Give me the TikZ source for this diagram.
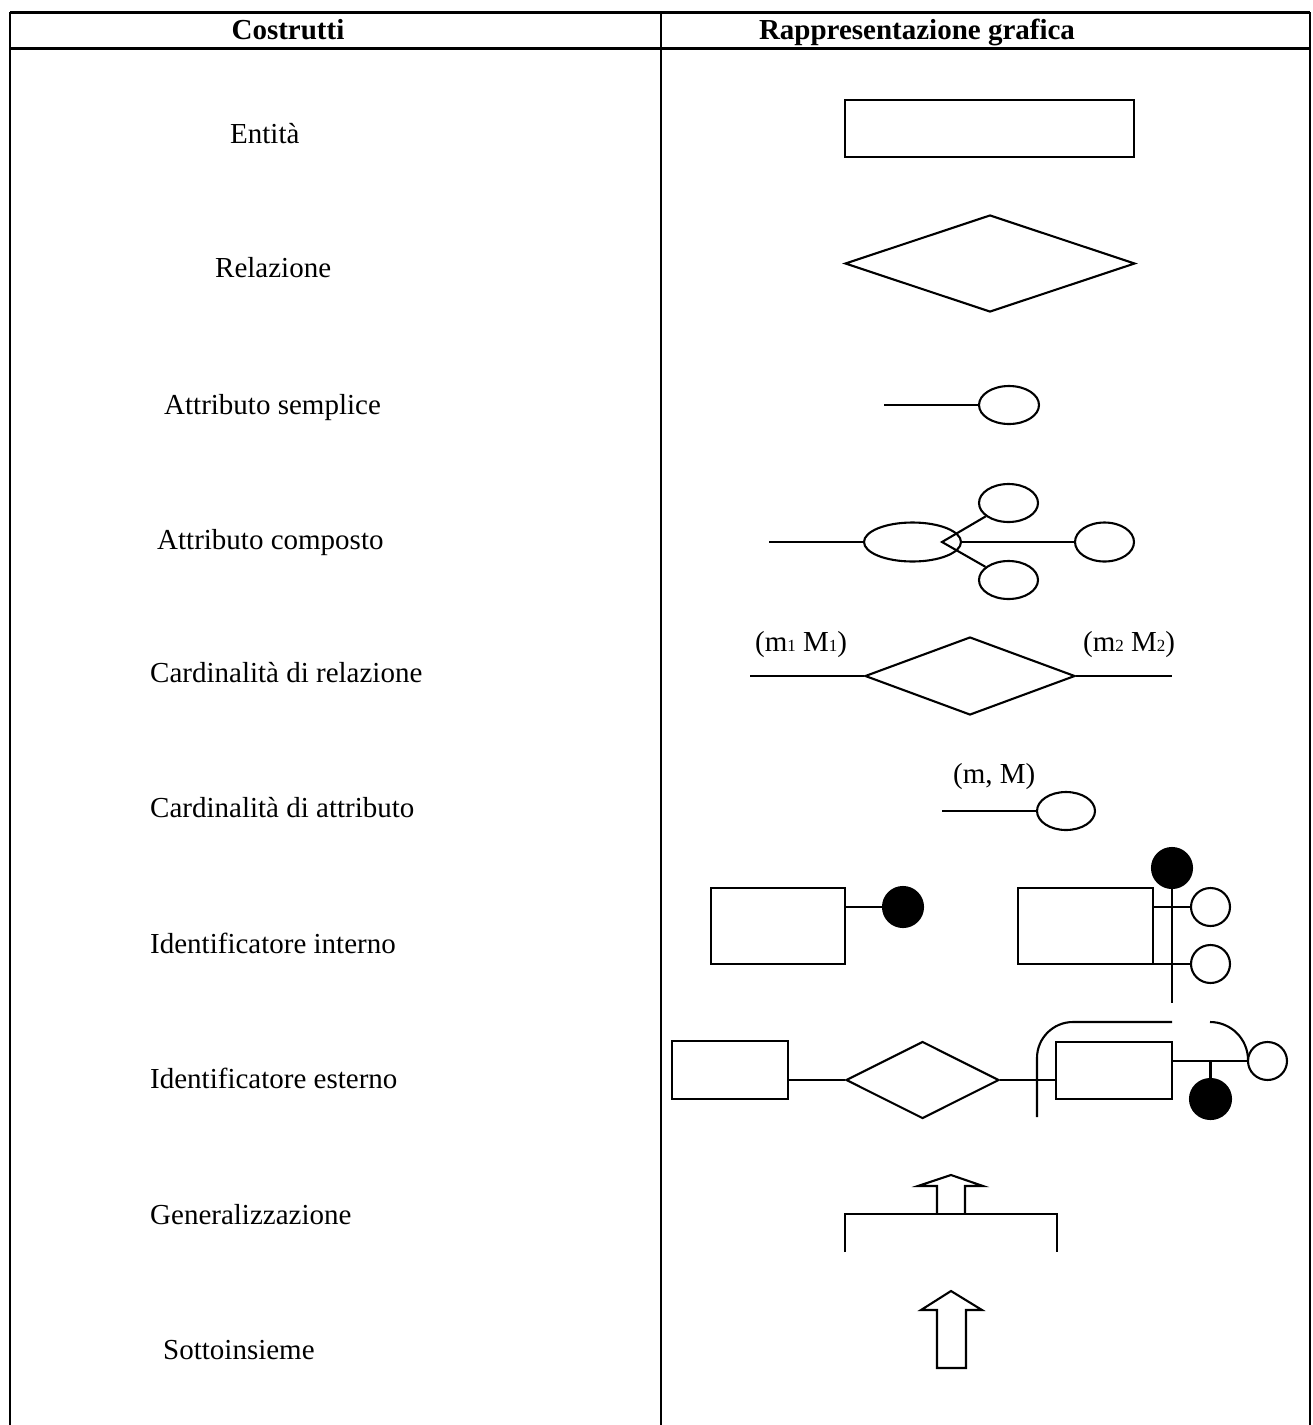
\documentclass[tikz,border=0pt]{standalone}
\usepackage{fontspec}
\setmainfont{Liberation Serif}
\usetikzlibrary{shapes.geometric}
\begin{document}
\begin{tikzpicture}[x=1pt,y=-1pt,
  grid/.style={line width=2.3pt, draw=black},
  hdr/.style={line width=3pt},
  lab/.style={anchor=base west, inner sep=0pt, font=\fontsize{29}{34}\selectfont},
  hlab/.style={anchor=base, inner sep=0pt, font=\fontsize{29}{34}\selectfont\bfseries},
  card/.style={anchor=base west, inner sep=0pt, font=\fontsize{29}{34}\selectfont},
  ent/.style={draw, rectangle, inner sep=0pt, line width=2.1pt},
  rel/.style={draw, diamond, inner sep=0pt, line width=2.1pt},
  att/.style={draw, ellipse, inner sep=0pt, line width=2.1pt, fill=white},
  key/.style={draw, ellipse, inner sep=0pt, line width=2.1pt, fill=black},
  wire/.style={line width=2.1pt},
  blockarrow/.style={line width=2.1pt, line join=miter}]
\newcommand{\sub}[1]{{\fontsize{17}{20}\selectfont #1}}
\useasboundingbox (0,0) rectangle (1313,1425);
\fill[white] (0,0) rectangle (1313,1425);

% table frame
\draw[hdr] (10,12) -- (1310,12);
\draw[hdr] (10,48) -- (1310,48);
\draw[grid] (10,12) -- (10,1426);
\draw[grid] (1310,12) -- (1310,1426);
\draw[grid] (661,12) -- (661,1426);

% header
\node[hlab] (h1) at (288,39) {Costrutti};
\node[hlab] (h2) at (917,39) {Rappresentazione grafica};

% construct names
\node[lab] (t1) at (230,143) {Entità};
\node[lab] (t2) at (215,277) {Relazione};
\node[lab] (t3) at (164,414) {Attributo semplice};
\node[lab] (t4) at (157,549) {Attributo composto};
\node[lab] (t5) at (150,682) {Cardinalità di relazione};
\node[lab] (t6) at (150,817) {Cardinalità di attributo};
\node[lab] (t7) at (150,953) {Identificatore interno};
\node[lab] (t8) at (150,1088) {Identificatore esterno};
\node[lab] (t9) at (150,1224) {Generalizzazione};
\node[lab] (t10) at (163,1359) {Sottoinsieme};

% entity
\node[ent, minimum width=289pt, minimum height=57pt] (e1) at (989.5,128.5) {};

% relationship
\node[rel, minimum width=290pt, minimum height=97pt] (r1) at (990,263.5) {};

% simple attribute
\coordinate (sa0) at (884,405);
\node[att, minimum width=60pt, minimum height=38pt] (sa) at (1009,405) {};
\draw[wire] (sa0) -- (sa.west);

% composite attribute
\coordinate (ca0) at (769,542);
\node[att, minimum width=97pt, minimum height=39pt] (ca) at (912.5,542) {};
\coordinate (cav) at (942,542);
\node[att, minimum width=59pt, minimum height=38pt] (cau) at (1008.5,503) {};
\node[att, minimum width=59pt, minimum height=38pt] (cad) at (1008.5,580) {};
\node[att, minimum width=59pt, minimum height=39pt] (car) at (1104.5,542) {};
\draw[wire] (ca0) -- (ca.west);
\draw[wire] (cau) -- (cav) -- (cad);
\draw[wire] (ca.east) -- (car.west);

% relationship cardinality
\coordinate (cr0) at (750,676);
\coordinate (cr1) at (1172,676);
\node[rel, minimum width=210pt, minimum height=78pt] (cr) at (970,676) {};
\draw[wire] (cr0) -- (cr.west);
\draw[wire] (cr.east) -- (cr1);
\node[card] (crl) at (755,651) {(m\sub{1} M\sub{1})};
\node[card] (crr) at (1083,651) {(m\sub{2} M\sub{2})};

% attribute cardinality
\coordinate (ka0) at (942,811);
\node[att, minimum width=58pt, minimum height=38pt] (ka) at (1066,811) {};
\draw[wire] (ka0) -- (ka.west);
\node[card] (kal) at (953,783) {(m, M)};

% internal identifier, single attribute
\node[ent, minimum width=134pt, minimum height=76pt] (ii1) at (778,926) {};
\node[key, minimum width=40pt, minimum height=40pt] (ik1) at (903,907) {};
\draw[wire] (ik1.west) -- (ik1.west -| ii1.east);

% internal identifier, two attributes
\node[ent, minimum width=135pt, minimum height=76pt] (ii2) at (1085.5,926) {};
\coordinate (ibar) at (1172,1003);
\draw[wire] (1172,868) -- (ibar);
\node[key, minimum width=40pt, minimum height=40pt] (ik2) at (1172,868) {};
\node[att, minimum width=39pt, minimum height=38pt] (ic1) at (1210.5,907) {};
\node[att, minimum width=39pt, minimum height=38pt] (ic2) at (1210.5,964) {};
\draw[wire] (ic1.west) -- (ic1.west -| ii2.east);
\draw[wire] (ic2.west) -- (ic2.west -| ii2.east);

% external identifier
\node[ent, minimum width=116pt, minimum height=58pt] (xe1) at (730,1070) {};
\node[rel, minimum width=153pt, minimum height=77pt] (xr) at (922.5,1080) {};
\node[ent, minimum width=116pt, minimum height=57pt] (xe2) at (1114,1070.5) {};
\draw[wire] (xr.west) -- (xr.west -| xe1.east);
\draw[wire] (xr.east) -- (xr.east -| xe2.west);
\draw[wire, rounded corners=36pt] (1037,1117) -- (1037,1022) -- (1172,1022);
\draw[wire, rounded corners=38pt] (1210,1022) -- (1248,1022) -- (1248,1061);
\node[att, minimum width=39pt, minimum height=38pt] (xc) at (1267.5,1061) {};
\draw[wire] (xc.west) -- (xc.west -| xe2.east);
\coordinate (xj) at (1210.5,1061);
\draw[wire] (xj) -- (1210.5,1099);
\node[key, minimum width=41pt, minimum height=40pt] (xk) at (1210.5,1099) {};

% generalisation
\draw[wire] (845,1252) -- (845,1214) -- (1057,1214) -- (1057,1252);
\draw[blockarrow] (937,1214) -- (937,1186) -- (918,1186) -- (951,1175)
  -- (983,1186) -- (965,1186) -- (965,1214);

% subset
\draw[blockarrow] (937,1368) -- (937,1310) -- (921,1310) -- (951,1291)
  -- (982,1310) -- (966,1310) -- (966,1368) -- cycle;
\end{tikzpicture}
\end{document}
